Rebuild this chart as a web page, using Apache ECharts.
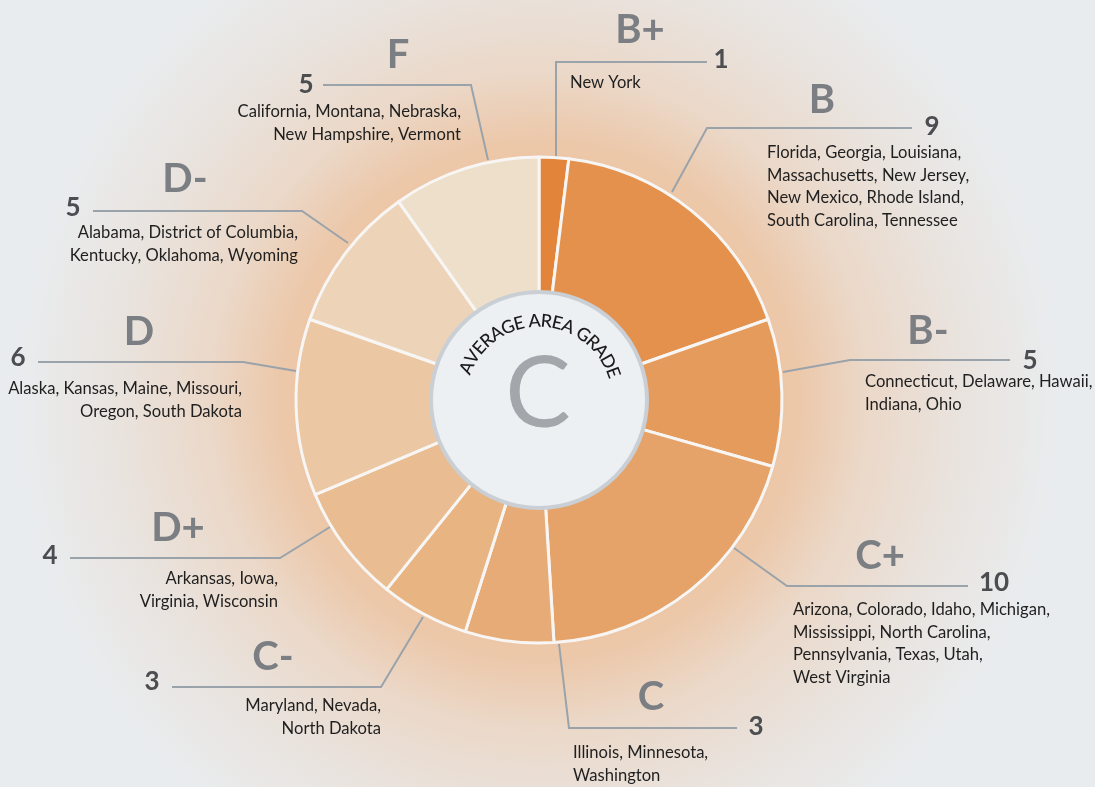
<!DOCTYPE html>
<html>
<head>
<meta charset="utf-8">
<script src="https://cdn.jsdelivr.net/npm/echarts@6/dist/echarts.min.js"></script>
<style>
html, body { margin: 0; padding: 0; background: #e8ecef; }
#main {
  width: 1095px;
  height: 787px;
  background: radial-gradient(circle 520px at 539px 400px, #f0b27a 0%, #ecc8aa 50%, #ebd8c8 63%, #e9e3de 81%, #e9ecee 100%);
}
</style>
</head>
<body>
<div id="main"></div>
<script>
// grades, number of states and state names, clockwise from 12 o'clock
var grades = ['B+', 'B', 'B-', 'C+', 'C', 'C-', 'D+', 'D', 'D-', 'F'];
var counts = [1, 9, 5, 10, 3, 3, 4, 6, 5, 5];
var states = [
  'New York',
  'Florida, Georgia, Louisiana,\nMassachusetts, New Jersey,\nNew Mexico, Rhode Island,\nSouth Carolina, Tennessee',
  'Connecticut, Delaware, Hawaii,\nIndiana, Ohio',
  'Arizona, Colorado, Idaho, Michigan,\nMississippi, North Carolina,\nPennsylvania, Texas, Utah,\nWest Virginia',
  'Illinois, Minnesota,\nWashington',
  'Maryland, Nevada,\nNorth Dakota',
  'Arkansas, Iowa,\nVirginia, Wisconsin',
  'Alaska, Kansas, Maine, Missouri,\nOregon, South Dakota',
  'Alabama, District of Columbia,\nKentucky, Oklahoma, Wyoming',
  'California, Montana, Nebraska,\nNew Hampshire, Vermont'
];
var colors = ['#e2853a', '#e3914d', '#e49b5c', '#e5a369', '#e6ab76', '#e7b482', '#e9bd91', '#ebc8a3', '#edd4b8', '#eedfcb'];
var averageGrade = 'C';
var averageTitle = 'AVERAGE AREA GRADE';

// where each callout sits (leader line, grade, count, state list)
var callouts = [
  { start: [556, 158], elbow: [556, 62], end: [707, 62], grade: [640, 30], num: [721, 60], text: [570, 83], align: 'left' },
  { start: [672, 192], elbow: [707, 128], end: [912, 128], grade: [822, 100], num: [932, 127], text: [767, 153], align: 'left' },
  { start: [783, 372], elbow: [850, 360], end: [1010, 360], grade: [928, 331], num: [1030, 361], text: [865, 382], align: 'left' },
  { start: [734, 548], elbow: [787, 586], end: [968, 586], grade: [880, 556], num: [994, 583], text: [793, 610], align: 'left' },
  { start: [559, 644], elbow: [569, 728], end: [737, 728], grade: [651, 697], num: [756, 727], text: [573, 753], align: 'left' },
  { start: [423, 617], elbow: [381, 687], end: [172, 687], grade: [273, 657], num: [152, 682], text: [381, 706], align: 'right' },
  { start: [330, 527], elbow: [280, 558], end: [70, 558], grade: [178, 528], num: [50, 556], text: [278, 579], align: 'right' },
  { start: [296, 371], elbow: [243, 362], end: [38, 362], grade: [139, 332], num: [18, 358], text: [242, 389], align: 'right' },
  { start: [348, 243], elbow: [302, 211], end: [93, 211], grade: [185, 179], num: [73, 208], text: [298, 233], align: 'right' },
  { start: [488, 160], elbow: [471, 85], end: [323, 85], grade: [398, 55], num: [306, 85], text: [461, 112], align: 'right' }
];

var cx = 539, cy = 400;
var FONT = 'Lato, "Open Sans", sans-serif';
var LINE_H = 22.5;

var chart = echarts.init(document.getElementById('main'), null, { renderer: 'canvas' });

var pieData = grades.map(function (g, i) {
  return { name: g, value: counts[i], itemStyle: { color: colors[i] } };
});

var graphics = [];

// counts and state lists
callouts.forEach(function (c, i) {
  graphics.push({
    type: 'text', x: c.num[0], y: c.num[1], z: 50,
    style: { text: String(counts[i]), font: 'bold 26px ' + FONT, fill: '#4b4d50', align: 'center', verticalAlign: 'middle' }
  });
  graphics.push({
    type: 'text', x: c.text[0], y: c.text[1] - LINE_H / 2, z: 50,
    style: { text: states[i], font: '16.6px ' + FONT, fill: '#1f1f1f', align: c.align, verticalAlign: 'top', lineHeight: LINE_H }
  });
});

// center disk
graphics.push({
  type: 'circle', z: 100,
  shape: { cx: cx, cy: cy, r: 108 },
  style: { fill: '#ecf0f3', stroke: '#c9cfd4', lineWidth: 4 }
});
graphics.push({
  type: 'text', x: cx - 1, y: cy - 5, z: 101,
  style: { text: averageGrade, font: '98px ' + FONT, fill: '#a3a6aa', align: 'center', verticalAlign: 'middle' }
});

// curved title, one char at a time
var ctx = document.createElement('canvas').getContext('2d');
var titleFont = '500 18px ' + FONT;
ctx.font = titleFont;
var widths = averageTitle.split('').map(function (ch) { return ctx.measureText(ch).width; });
var total = widths.reduce(function (a, b) { return a + b; }, 0);
var R = 79;
var acc = 0;
averageTitle.split('').forEach(function (ch, i) {
  var s = acc + widths[i] / 2 - total / 2;
  acc += widths[i];
  if (ch === ' ') return;
  var th = s / R + 0.026;
  graphics.push({
    type: 'text', z: 101,
    x: cx + R * Math.sin(th), y: cy - R * Math.cos(th),
    rotation: -th,
    style: { text: ch, font: titleFont, fill: '#1a1a1a', align: 'center', verticalAlign: 'middle' }
  });
});

var option = {
  animation: false,
  series: [{
    type: 'pie',
    center: [cx, cy],
    radius: [100, 243],
    startAngle: 90,
    clockwise: true,
    avoidLabelOverlap: false,
    silent: true,
    itemStyle: { borderColor: '#f8f6f4', borderWidth: 3 },
    label: {
      show: true,
      position: 'outside',
      formatter: '{b}',
      color: '#7b7e82',
      fontSize: 40,
      fontWeight: 'bold',
      fontFamily: FONT
    },
    labelLine: { show: true, length: 20, length2: 20, lineStyle: { color: '#9aa3aa', width: 2 } },
    labelLayout: function (p) {
      var c = callouts[p.dataIndex];
      return {
        x: c.grade[0], y: c.grade[1], align: 'center', verticalAlign: 'middle',
        labelLinePoints: [c.start, c.elbow, c.end]
      };
    },
    data: pieData
  }],
  graphic: graphics
};

chart.setOption(option);
</script>
</body>
</html>
